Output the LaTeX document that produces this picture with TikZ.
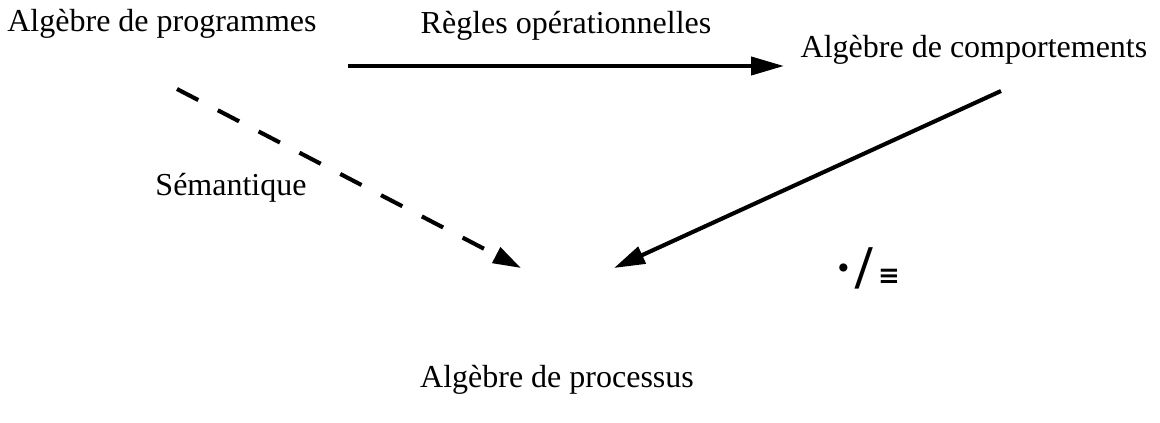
\documentclass[tikz,border=0pt]{standalone}
\usepackage{fontspec}
\setmainfont{Liberation Serif}
\newfontfamily\symfont{DejaVu Sans}
\usetikzlibrary{arrows.meta}
\begin{document}
\begin{tikzpicture}[x=1pt,y=-1pt,
  lbl/.style={anchor=base,inner sep=0pt,font=\fontsize{32}{38}\selectfont},
  conn/.style={line width=4.1pt},
  bigtip/.style={-{Triangle[length=33pt,width=18pt]}},
  dashtip/.style={-{Triangle[length=28pt,width=17pt]}},
  diagtip/.style={-{Triangle[length=31pt,width=18pt]}},
  dashedconn/.style={conn,dash pattern=on 24pt off 22pt}
]
\useasboundingbox (0,0) rectangle (1160,423);
% nodes
\node[lbl] (prog) at (162,31) {Algèbre de programmes};
\node[lbl] (regles) at (566,33) {Règles opérationnelles};
\node[lbl] (comp) at (974,57) {Algèbre de comportements};
\node[lbl] (sem) at (231,195) {Sémantique};
\node[lbl] (proc) at (557,387) {Algèbre de processus};
% quotient label
\node[inner sep=0pt,font=\fontsize{50}{50}\selectfont\bfseries] (dot) at (844,274) {·};
\node[inner sep=0pt,font=\fontsize{62}{62}\selectfont\bfseries] (slash) at (864,268) {/};
\node[inner sep=0pt,font=\fontsize{26}{26}\selectfont\symfont\bfseries] (eqv) at (889,277) {≡};
% connector end points
\coordinate (h1) at (348,66);
\coordinate (h2) at (784,66);
\coordinate (d1) at (177,89);
\coordinate (d2) at (521,268);
\coordinate (s1) at (1001,91);
\coordinate (s2) at (614,268);
% connectors
\draw[conn,bigtip] (h1) -- (h2);
\draw[dashedconn,dashtip] (d1) -- (d2);
\draw[conn,diagtip] (s1) -- (s2);
\end{tikzpicture}
\end{document}
